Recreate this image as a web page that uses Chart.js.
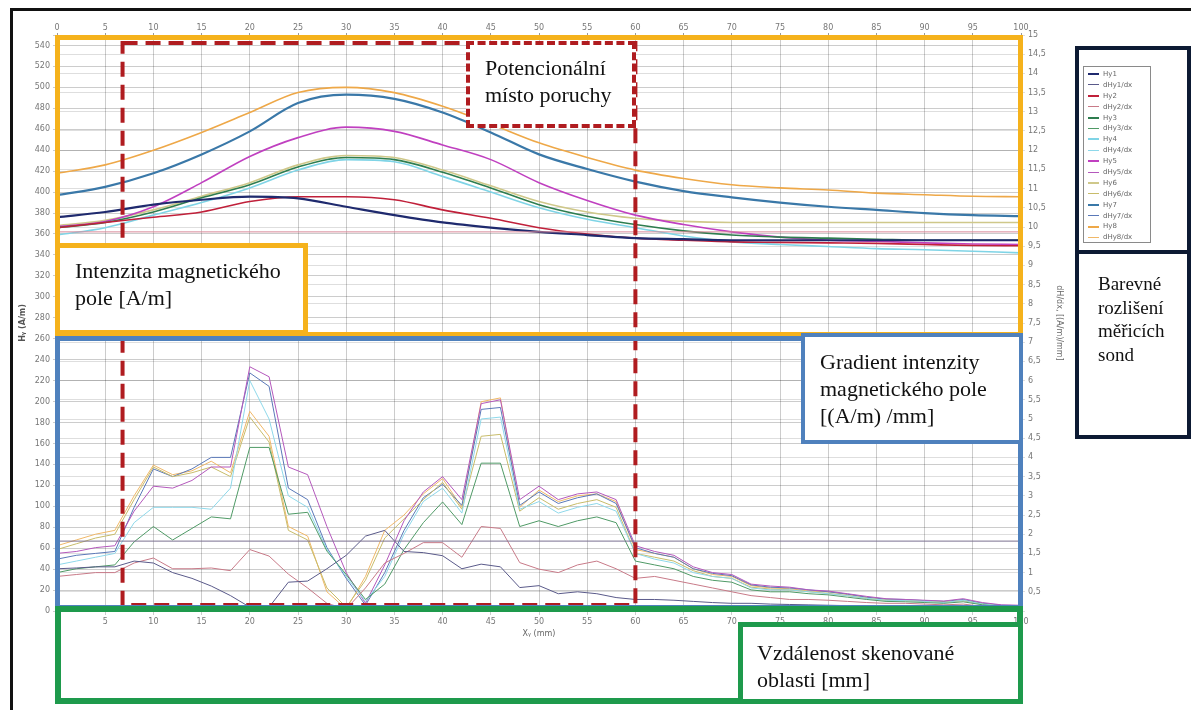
<!DOCTYPE html>
<html>
<head>
<meta charset="utf-8">
<script src="https://cdn.jsdelivr.net/npm/chart.js@4/dist/chart.umd.min.js"></script>
<style>
  body { margin: 0; background: #fff; width: 1191px; height: 710px; overflow: hidden; position: relative; }
  #graf { position: absolute; left: 0; top: 0; }
  .box { position: absolute; box-sizing: border-box; }
  .txt { font-family: 'Liberation Serif', serif; color: #111; font-size: 22px; line-height: 27px; white-space: nowrap; }
  #legenda { position: absolute; left: 1083px; top: 66px; width: 68px; height: 177px; box-sizing: border-box;
             border: 1px solid #8a8a8a; background: #fff; padding: 2px 0 0 4px; }
  .li { height: 10.9px; font-family: 'DejaVu Sans', sans-serif; font-size: 7px; color: #666; line-height: 10.9px; white-space: nowrap; }
  .li span { display: inline-block; width: 11px; vertical-align: middle; margin-right: 4px; }
</style>
</head>
<body>
<canvas id="graf" width="1191" height="710"></canvas>

<!-- ramecky a popisky -->
<div class="box" style="left:10px;top:8px;width:1200px;height:720px;border:3px solid #111;"></div>
<div class="box" style="left:55px;top:35px;width:968px;height:302px;border:5px solid #f5b21c;"></div>
<div class="box" style="left:55px;top:336px;width:968px;height:274px;border:5px solid #4f81bd;"></div>
<div class="box" style="left:55px;top:606px;width:968px;height:98px;border:6px solid #1e9a4c;"></div>

<div class="box txt" style="left:466px;top:41px;width:170px;height:87px;border:4px dashed #b01c20;background:#fff;padding:9px 0 0 15px;">Potencionální<br>místo poruchy</div>
<div class="box txt" style="left:55px;top:243px;width:253px;height:92px;border:5px solid #f5b21c;background:#fff;padding:9px 0 0 15px;">Intenzita magnetického<br>pole [A/m]</div>
<div class="box txt" style="left:801px;top:333px;width:222px;height:111px;border:4px solid #4f81bd;background:#fff;padding:11px 0 0 15px;">Gradient intenzity<br>magnetického pole<br>[(A/m) /mm]</div>
<div class="box txt" style="left:738px;top:622px;width:285px;height:82px;border:5px solid #1e9a4c;background:#fff;padding:12px 0 0 14px;">Vzdálenost skenované<br>oblasti [mm]</div>

<div class="box" style="left:1075px;top:46px;width:116px;height:207px;border:4px solid #0d1a33;border-bottom-width:3px;"></div>
<div class="box txt" style="left:1075px;top:250px;width:116px;height:189px;border:4px solid #0d1a33;padding:18px 0 0 19px;font-size:19px;line-height:23.5px;">Barevné<br>rozlišení<br>měřicích<br>sond</div>
<div id="legenda"></div>

<script>
// osa x - vzdalenost (mm)
const xH = [0, 5, 10, 15, 20, 25, 30, 35, 40, 45, 50, 55, 60, 65, 70, 75, 80, 85, 90, 95, 100];
const xG = [0, 2, 4, 6, 8, 10, 12, 14, 16, 18, 20, 22, 24, 26, 28, 30, 32, 34, 36, 38, 40, 42, 44, 46, 48, 50,
            52, 54, 56, 58, 60, 62, 64, 66, 68, 70, 72, 74, 76, 78, 80, 82, 84, 86, 88, 90, 92, 94, 96, 98, 100];

// intenzita Hy [A/m] (leva osa)
const hy1 = [376, 381, 388, 392.7, 395.6, 394, 386, 378, 371, 366, 362, 359, 356, 355, 354, 354, 354, 354, 354, 354, 354];
const hy2 = [366, 371, 376, 381, 391, 395.6, 395.6, 392.7, 383, 375, 366, 360, 356, 354, 352.5, 352, 351.5, 351, 350, 349, 348.7];
const hy3 = [366, 371, 381, 394.6, 407, 424, 433, 431, 419, 404, 388, 377, 369, 363, 359, 357, 356, 355, 354, 354, 354];
const hy4 = [359, 366, 378, 390, 404, 421, 431, 429, 415, 400, 385, 374, 366, 358, 352.5, 350, 348, 346, 345, 343.5, 342];
const hy5 = [367, 372, 386, 409, 434, 452, 462, 458, 445, 431, 409, 392, 378, 369, 362, 357, 354, 353, 351.5, 350.5, 350];
const hy6 = [368, 373, 383, 396, 409, 426, 435, 433, 421, 406, 391, 381, 375, 372, 371, 371, 371, 371, 371, 371, 371];
const hy7 = [397, 405, 418, 436, 458, 485, 493, 489, 476, 457, 436, 422, 410, 401, 395, 390, 386, 383, 380, 378, 377];
const hy8 = [418, 426, 440, 457, 476, 495, 500, 495, 482, 465, 447, 433, 421, 413, 407, 404, 402, 399, 397.5, 396, 395.5];

// gradient dHy/dx [(A/m)/mm] (prava osa)
const dhy1 = [1.1, 1.12, 1.15, 1.15, 1.3, 1.25, 1.0, 0.85, 0.65, 0.4, 0.1, 0.1, 0.75, 0.78, 1.1, 1.45, 1.95, 2.1, 1.55, 1.52, 1.44, 1.1, 1.22, 1.15, 0.61, 0.66,
              0.45, 0.5, 0.45, 0.35, 0.3, 0.3, 0.28, 0.25, 0.22, 0.2, 0.2, 0.18, 0.17, 0.16, 0.15, 0.14, 0.12, 0.12, 0.1, 0.1, 0.1, 0.1, 0.08, 0.08, 0.08];
const dhy2 = [0.9, 0.95, 1.0, 1.0, 1.25, 1.38, 1.1, 1.1, 1.12, 1.05, 1.6, 1.43, 0.96, 0.6, 0.2, 0.05, 0.6, 1.25, 1.5, 1.78, 1.78, 1.4, 2.2, 2.15, 1.26, 1.09,
              1.0, 1.2, 1.3, 1.1, 0.85, 0.9, 0.8, 0.7, 0.6, 0.5, 0.4, 0.35, 0.3, 0.3, 0.28, 0.25, 0.22, 0.2, 0.2, 0.18, 0.16, 0.18, 0.12, 0.1, 0.1];
const dhy3 = [1.0, 1.1, 1.15, 1.2, 1.8, 2.2, 1.85, 2.15, 2.45, 2.4, 4.26, 4.26, 2.52, 2.57, 1.56, 0.95, 0.3, 0.7, 1.6, 2.3, 2.84, 2.25, 3.85, 3.85, 2.2, 2.35,
              2.2, 2.35, 2.45, 2.3, 1.3, 1.2, 1.1, 0.9, 0.8, 0.75, 0.55, 0.5, 0.5, 0.45, 0.42, 0.36, 0.3, 0.25, 0.24, 0.22, 0.2, 0.24, 0.16, 0.12, 0.1];
const dhy4 = [1.2, 1.3, 1.4, 1.5, 2.3, 2.7, 2.7, 2.7, 2.65, 3.2, 6.0, 5.0, 3.0, 2.7, 1.6, 0.9, 0.25, 0.9, 2.0, 2.85, 3.2, 2.55, 5.0, 5.05, 2.65, 2.85,
              2.55, 2.7, 2.8, 2.6, 1.5, 1.35, 1.25, 1.0, 0.9, 0.85, 0.6, 0.55, 0.55, 0.5, 0.45, 0.4, 0.33, 0.28, 0.27, 0.25, 0.22, 0.28, 0.18, 0.13, 0.12];
const dhy5 = [1.5, 1.55, 1.65, 1.7, 2.6, 3.25, 3.2, 3.4, 3.75, 3.75, 6.36, 6.1, 3.75, 3.55, 2.2, 1.0, 0.2, 1.2, 2.35, 3.1, 3.5, 2.9, 5.4, 5.5, 2.9, 3.25,
              2.9, 3.05, 3.1, 2.9, 1.7, 1.55, 1.45, 1.15, 1.0, 0.95, 0.7, 0.65, 0.62, 0.55, 0.52, 0.45, 0.38, 0.32, 0.3, 0.28, 0.26, 0.32, 0.22, 0.16, 0.15];
const dhy6 = [1.6, 1.75, 1.9, 2.0, 2.9, 3.75, 3.5, 3.6, 3.75, 3.5, 5.05, 4.4, 2.1, 1.85, 0.6, 0.1, 0.8, 1.9, 2.4, 2.9, 3.35, 2.65, 4.55, 4.6, 2.6, 2.95,
              2.65, 2.8, 2.9, 2.7, 1.5, 1.4, 1.3, 1.05, 0.9, 0.85, 0.62, 0.57, 0.55, 0.5, 0.46, 0.4, 0.33, 0.28, 0.27, 0.25, 0.23, 0.27, 0.18, 0.13, 0.12];
const dhy7 = [1.35, 1.45, 1.5, 1.55, 2.7, 3.7, 3.5, 3.7, 4.0, 4.0, 6.2, 5.85, 3.2, 2.9, 1.65, 0.85, 0.15, 1.0, 2.1, 2.95, 3.3, 2.75, 5.25, 5.3, 2.75, 3.1,
              2.8, 2.95, 3.05, 2.8, 1.65, 1.5, 1.4, 1.1, 0.98, 0.92, 0.68, 0.62, 0.6, 0.55, 0.5, 0.44, 0.36, 0.31, 0.3, 0.27, 0.25, 0.3, 0.2, 0.15, 0.14];
const dhy8 = [1.7, 1.85, 2.0, 2.1, 3.0, 3.8, 3.55, 3.65, 3.9, 3.6, 5.2, 4.55, 2.2, 1.95, 0.5, 0.05, 0.9, 2.1, 2.5, 3.05, 3.45, 2.7, 5.45, 5.55, 2.7, 3.15,
              2.85, 3.0, 3.05, 2.85, 1.6, 1.5, 1.4, 1.1, 0.95, 0.9, 0.66, 0.6, 0.58, 0.52, 0.5, 0.43, 0.35, 0.3, 0.28, 0.26, 0.24, 0.28, 0.2, 0.14, 0.13];

// vodorovne referencni cary
const limitH = 362;   // A/m
const limitG = 1.82;  // (A/m)/mm
// oblast potencionalni poruchy (mm)
const poruchaOd = 6.8, poruchaDo = 60;

const nazvy = ['Hy1', 'dHy1/dx', 'Hy2', 'dHy2/dx', 'Hy3', 'dHy3/dx', 'Hy4', 'dHy4/dx',
               'Hy5', 'dHy5/dx', 'Hy6', 'dHy6/dx', 'Hy7', 'dHy7/dx', 'Hy8', 'dHy8/dx'];
const barvyH = ['#1f2a6e', '#c0203a', '#2e7d4f', '#7fd4e6', '#c040c0', '#cfc88a', '#3a78a8', '#eea848'];
const barvyG = ['#5a5a8a', '#c87a88', '#4f9a66', '#8ed8ea', '#b458bc', '#c8bc6a', '#5a78b8', '#f0b868'];

const radyH = [hy1, hy2, hy3, hy4, hy5, hy6, hy7, hy8];
const radyG = [dhy1, dhy2, dhy3, dhy4, dhy5, dhy6, dhy7, dhy8];

function body(xs, ys) { return xs.map((x, i) => ({ x: x, y: ys[i] })); }

var datasets = [];
datasets.push({ data: [{ x: 0, y: limitH }, { x: 100, y: limitH }], borderColor: '#d88898', borderWidth: 1, yAxisID: 'y' });
datasets.push({ data: [{ x: 0, y: limitG }, { x: 100, y: limitG }], borderColor: '#7a7090', borderWidth: 1, yAxisID: 'y2' });
for (var i = 0; i < 8; i++) {
  datasets.push({
    label: nazvy[2 * i + 1], data: body(xG, radyG[i]), borderColor: barvyG[i],
    borderWidth: 1, yAxisID: 'y2'
  });
}
for (var i = 0; i < 8; i++) {
  datasets.push({
    label: nazvy[2 * i], data: body(xH, radyH[i]), borderColor: barvyH[i],
    borderWidth: (i == 0 || i == 6) ? 2.2 : 1.6, yAxisID: 'y', cubicInterpolationMode: 'monotone'
  });
}

// legenda
var leg = document.getElementById('legenda');
nazvy.forEach(function (n, k) {
  var c = k % 2 == 0 ? barvyH[k / 2] : barvyG[(k - 1) / 2];
  var h = k % 2 == 0 ? 2 : 1;
  leg.innerHTML += '<div class="li"><span style="border-top:' + h + 'px solid ' + c + '"></span>' + n + '</div>';
});

var pismo = { family: 'DejaVu Sans', size: 8 };
var sedaMrizka = 'rgba(0,0,0,0.2)';

// carkovany obdelnik potencionalni poruchy
var porucha = {
  id: 'porucha',
  afterDatasetsDraw: function (chart) {
    var ctx = chart.ctx, a = chart.chartArea, sx = chart.scales.x;
    var x1 = sx.getPixelForValue(poruchaOd), x2 = sx.getPixelForValue(poruchaDo);
    ctx.save();
    ctx.strokeStyle = '#b01c20';
    ctx.lineWidth = 4;
    ctx.setLineDash([15, 8]);
    ctx.strokeRect(x1, a.top + 8, x2 - x1, a.bottom - a.top - 14);
    ctx.restore();
  }
};

new Chart(document.getElementById('graf').getContext('2d'), {
  type: 'line',
  data: { datasets: datasets },
  plugins: [porucha],
  options: {
    responsive: false,
    devicePixelRatio: 1,
    animation: false,
    layout: { padding: { left: 12, top: 10, right: 125, bottom: 71 } },
    elements: { point: { radius: 0 }, line: { tension: 0 } },
    plugins: { legend: { display: false }, tooltip: { enabled: false } },
    scales: {
      x: {
        type: 'linear', min: 0, max: 100, position: 'bottom',
        afterFit: function (s) { s.height = 28; },
        ticks: { stepSize: 5, font: pismo, color: '#777', padding: 2, maxRotation: 0 },
        grid: { color: sedaMrizka, tickLength: 4 },
        title: { display: true, text: 'Xᵧ (mm)', font: pismo, color: '#666', padding: 0 }
      },
      x2: {
        type: 'linear', min: 0, max: 100, position: 'top',
        afterFit: function (s) { s.height = 25; },
        ticks: { stepSize: 5, font: pismo, color: '#777', padding: 0, maxRotation: 0 },
        grid: { drawOnChartArea: false, tickLength: 2, color: '#999' }
      },
      y: {
        min: 0, max: 550, position: 'left',
        afterFit: function (s) { s.width = 45; },
        ticks: {
          stepSize: 20, font: pismo, color: '#777', padding: 3,
          callback: function (v) { return v % 20 == 0 ? v : ''; }
        },
        grid: { color: sedaMrizka, tickLength: 4 },
        title: { display: true, text: 'Hᵧ (A/m)', font: { family: 'DejaVu Sans', size: 8, weight: 'bold' }, color: '#555', padding: { top: 6, bottom: 0 } }
      },
      y2: {
        min: 0, max: 15, position: 'right',
        afterFit: function (s) { s.width = 45; },
        ticks: {
          stepSize: 0.5, font: pismo, color: '#777', padding: 3,
          callback: function (v) { return v == 0 ? '' : String(v).replace('.', ','); }
        },
        grid: { color: 'rgba(0,0,0,0.13)', tickLength: 4 },
        title: { display: true, text: 'dH/dx, [(A/m)/mm]', font: pismo, color: '#666', padding: 2 }
      }
    }
  }
});
</script>
</body>
</html>
